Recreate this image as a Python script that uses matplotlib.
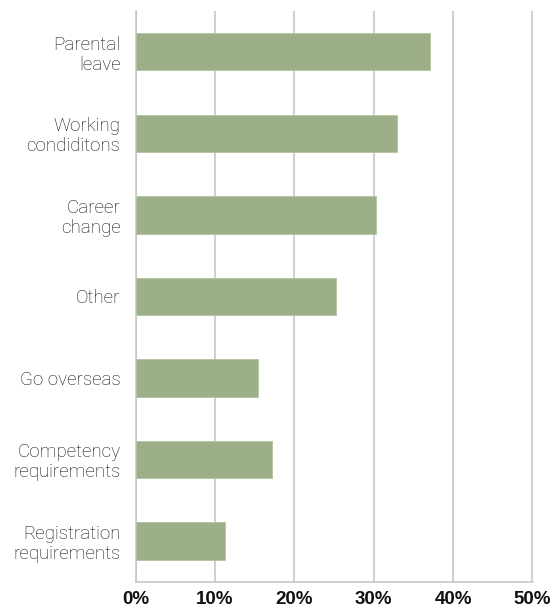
import matplotlib
matplotlib.use("Agg")
import matplotlib.pyplot as plt
import numpy as np

#%% Data
categories = ["Parental\nleave", "Working\ncondiditons", "Career\nchange", "Other",
              "Go overseas", "Competency\nrequirements", "Registration\nrequirements"]
shares = [37.1, 32.9, 30.3, 25.3, 15.4, 17.2, 11.3]            # percent
x_ticks = [0, 10, 20, 30, 40, 50]
x_tick_labels = ["0%", "10%", "20%", "30%", "40%", "50%"]

#%% Plot
bar_colour = "#9caf89"
grid_colour = "#c4c4c4"
text_colour = "#111111"

fig = plt.figure(figsize=(5.55, 6.10), dpi=100)
ax = fig.add_axes([0.2445, 0.0465, 0.7155, 0.9355])

y = np.arange(len(categories))
ax.barh(y, shares, height=0.46, color=bar_colour, edgecolor="#b4c3a3",
        linewidth=0.6, zorder=3)

ax.set_xlim(0, 50.05)
ax.set_ylim(len(categories) - 0.5, -0.5)                        # first category on top
ax.set_xticks(x_ticks)
ax.set_xticklabels(x_tick_labels, fontfamily="Liberation Sans",
                   fontweight="bold", fontsize=13.5, color="#111111")
ax.set_yticks(y)
ax.set_yticklabels(categories, fontfamily=["Roboto", "DejaVu Sans"],
                   fontweight="light", fontsize=13.5, color=text_colour,
                   linespacing=1.15)

ax.tick_params(axis="x", length=0, pad=7)
ax.tick_params(axis="y", length=0, pad=11)

ax.grid(axis="x", color=grid_colour, linewidth=1.1, zorder=0)
for side in ["top", "right"]:
    ax.spines[side].set_visible(False)
for side in ["left", "bottom"]:
    ax.spines[side].set_color(grid_colour)
    ax.spines[side].set_linewidth(1.1)

fig.savefig("out.png", dpi=100)
